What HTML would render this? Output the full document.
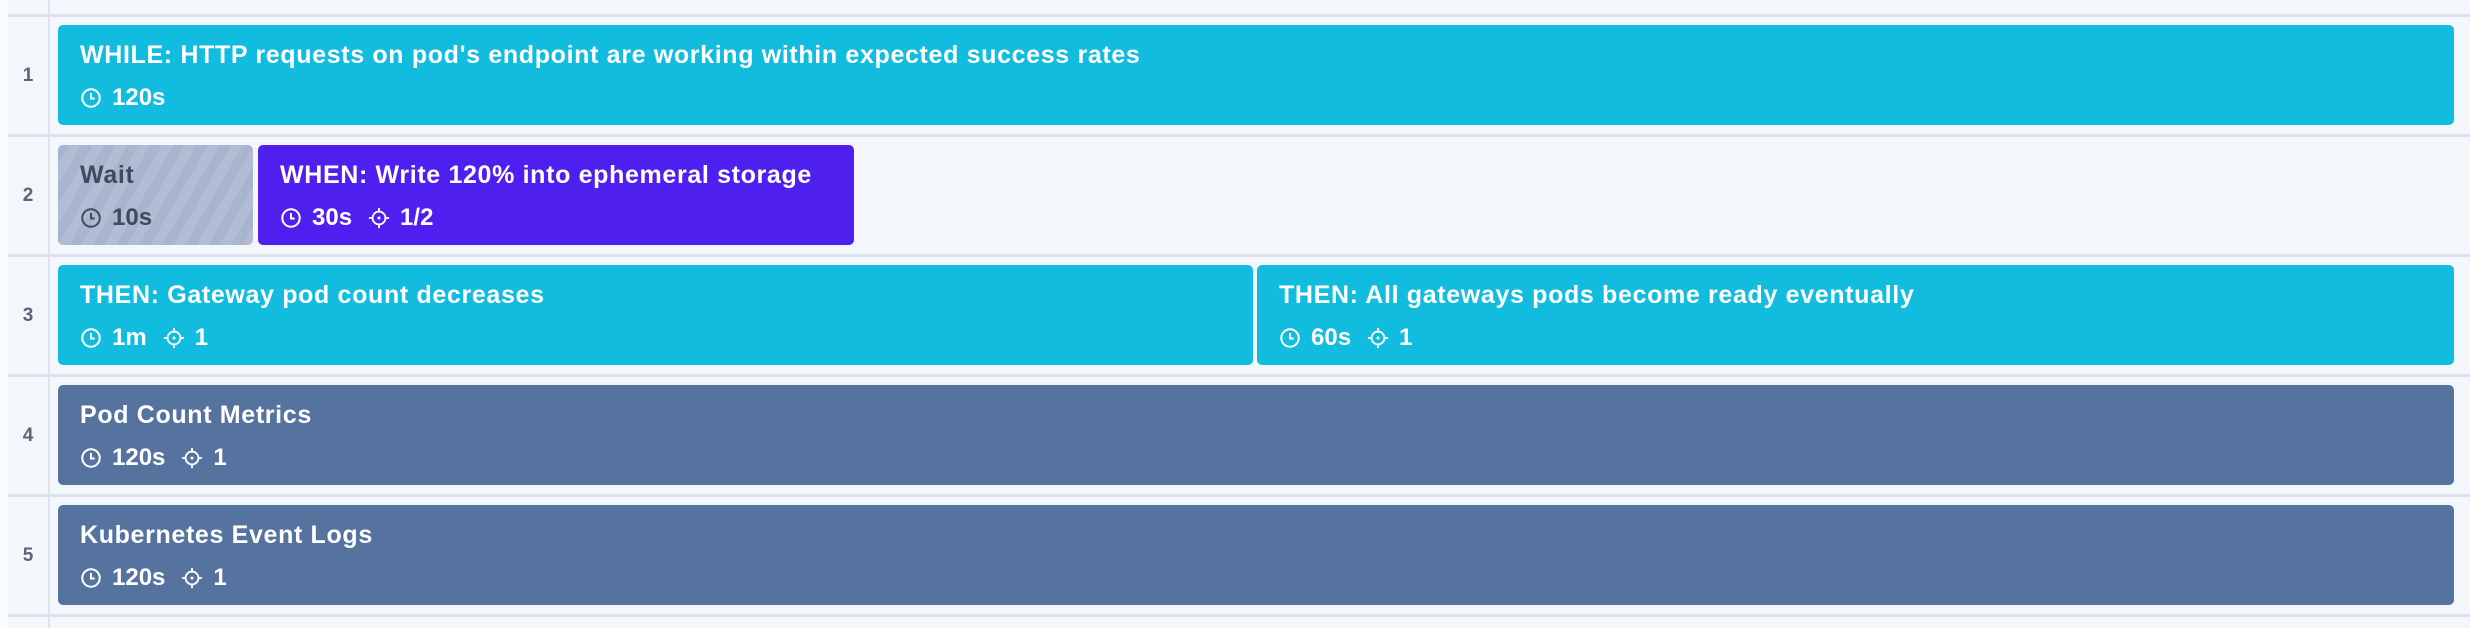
<!DOCTYPE html>
<html><head><meta charset="utf-8"><style>
body{margin:0;width:2470px;height:628px;background:#f3f6fb;position:relative;overflow:hidden;font-family:"Liberation Sans",sans-serif}
.strip{position:absolute;left:0;top:0;width:8px;height:628px;background:#fbfcfe}
.vline{position:absolute;left:48px;top:0;width:2px;height:628px;background:#dde3ec}
.sep{position:absolute;left:8px;right:0;height:3px;background:#dbe2ec}
.num{position:absolute;left:8px;width:40px;text-align:center;font-size:19px;font-weight:bold;color:#5b6577;line-height:22px}
.box{position:absolute;height:100px;border-radius:5px;color:#fff;box-sizing:border-box}
.t{position:absolute;left:22px;top:15px;font-size:25px;line-height:30px;font-weight:bold;white-space:nowrap;letter-spacing:0.65px}
.m{position:absolute;left:22px;top:58px;height:30px;font-size:24px;line-height:30px;font-weight:bold;white-space:nowrap;display:flex;align-items:center;gap:10px}
.m svg{display:block}
.cyan{background:#12bcdf}.purple{background:#4f1ff0}.slate{background:#56739f}
.wait{background:repeating-linear-gradient(120deg,#a9b5cf 0 10px,#b2bdd5 10px 20px);color:#414a5a}
</style></head><body>
<div class="strip"></div>
<div class="vline"></div>
<div class="sep" style="top:14px"></div>
<div class="sep" style="top:134px"></div>
<div class="sep" style="top:254px"></div>
<div class="sep" style="top:374px"></div>
<div class="sep" style="top:494px"></div>
<div class="sep" style="top:614px"></div>

<div class="num" style="top:65px">1</div>
<div class="num" style="top:185px">2</div>
<div class="num" style="top:305px">3</div>
<div class="num" style="top:425px">4</div>
<div class="num" style="top:545px">5</div>

<svg width="0" height="0" style="position:absolute"><defs>
<symbol id="clk" viewBox="0 0 24 24"><circle cx="12" cy="12" r="9.5" fill="none" stroke="currentColor" stroke-width="2.2"/><path d="M12 6.5V12.5H16" fill="none" stroke="currentColor" stroke-width="2.2"/></symbol>
<symbol id="tgt" viewBox="0 0 24 24"><circle cx="12" cy="12" r="7" fill="none" stroke="currentColor" stroke-width="2"/><circle cx="12" cy="12" r="1.6" fill="currentColor"/><path d="M12 1V6M12 18V23M1 12H6M18 12H23" stroke="currentColor" stroke-width="2"/></symbol>
</defs></svg>

<div class="box cyan" style="left:58px;top:25px;width:2396px">
<div class="t">WHILE: HTTP requests on pod's endpoint are working within expected success rates</div>
<div class="m"><svg width="22" height="22"><use href="#clk"/></svg><span>120s</span></div></div>

<div class="box wait" style="left:58px;top:145px;width:195px">
<div class="t">Wait</div>
<div class="m"><svg width="22" height="22"><use href="#clk"/></svg><span>10s</span></div></div>

<div class="box purple" style="left:258px;top:145px;width:596px">
<div class="t">WHEN: Write 120% into ephemeral storage</div>
<div class="m"><svg width="22" height="22"><use href="#clk"/></svg><span>30s</span><svg width="22" height="22" style="margin-left:6px"><use href="#tgt"/></svg><span>1/2</span></div></div>

<div class="box cyan" style="left:58px;top:265px;width:1195px">
<div class="t">THEN: Gateway pod count decreases</div>
<div class="m"><svg width="22" height="22"><use href="#clk"/></svg><span>1m</span><svg width="22" height="22" style="margin-left:6px"><use href="#tgt"/></svg><span>1</span></div></div>

<div class="box cyan" style="left:1257px;top:265px;width:1197px">
<div class="t">THEN: All gateways pods become ready eventually</div>
<div class="m"><svg width="22" height="22"><use href="#clk"/></svg><span>60s</span><svg width="22" height="22" style="margin-left:6px"><use href="#tgt"/></svg><span>1</span></div></div>

<div class="box slate" style="left:58px;top:385px;width:2396px">
<div class="t">Pod Count Metrics</div>
<div class="m"><svg width="22" height="22"><use href="#clk"/></svg><span>120s</span><svg width="22" height="22" style="margin-left:6px"><use href="#tgt"/></svg><span>1</span></div></div>

<div class="box slate" style="left:58px;top:505px;width:2396px">
<div class="t">Kubernetes Event Logs</div>
<div class="m"><svg width="22" height="22"><use href="#clk"/></svg><span>120s</span><svg width="22" height="22" style="margin-left:6px"><use href="#tgt"/></svg><span>1</span></div></div>
</body></html>
